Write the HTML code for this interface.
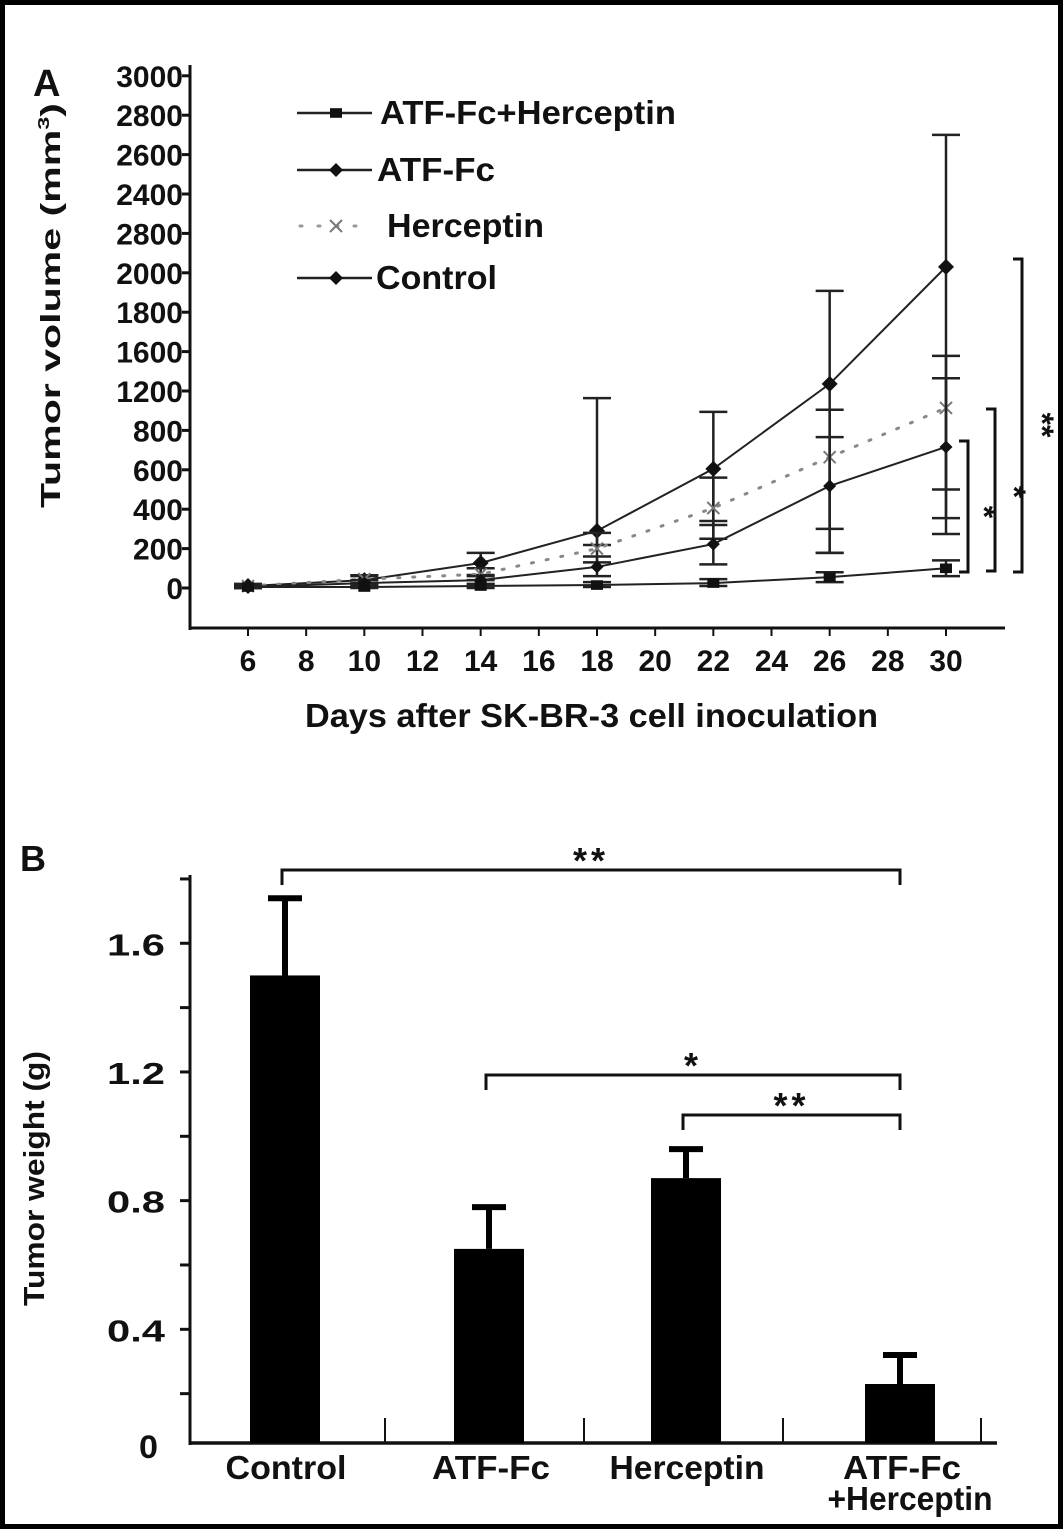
<!DOCTYPE html>
<html><head><meta charset="utf-8"><style>
html,body{margin:0;padding:0;background:#fff}
svg{display:block}
text{font-family:"Liberation Sans",sans-serif;font-weight:bold;fill:#111}
</style></head><body>
<svg id="fig" width="1063" height="1532" viewBox="0 0 1063 1532">
<rect x="2.5" y="2.5" width="1058" height="1524" fill="#fff" stroke="#000" stroke-width="5"/>
<g id="pa"></g>
<g id="pb"></g>
</svg>
<script>
// ---------- Panel A data ----------
const days = [6, 10, 14, 18, 22, 26, 30];
const yTickLabels = ["0","200","400","600","800","1200","1600","1800","2000","2800","2400","2600","2800","3000"];
const yTickValues = [0,200,400,600,800,1200,1600,1800,2000,2200,2400,2600,2800,3000];
const xTickLabels = [6,8,10,12,14,16,18,20,22,24,26,28,30];
const controlMean = [10, 40, 127, 290, 605, 1272, 2030];
const controlLow  = [0, 20, 66, 218, 320, 178, 274];
const controlHigh = [20, 60, 178, 1128, 988, 1908, 2700];
const hercMean = [10, 45, 70, 200, 406, 664, 1028];
const hercLow  = [0, 25, 40, 130, 250, 300, 500];
const hercHigh = [20, 65, 100, 280, 560, 1010, 1556];
const atfMean = [5, 25, 40, 107, 223, 518, 716];
const atfLow  = [0, 10, 20, 60, 120, 178, 355];
const atfHigh = [10, 40, 60, 160, 340, 766, 1330];
const comboMean = [5, 5, 10, 15, 25, 55, 100];
const comboLow  = [0, 0, 0, 5, 10, 30, 60];
const comboHigh = [10, 10, 20, 30, 45, 80, 140];
// ---------- Panel B data ----------
const groups = ["Control", "ATF-Fc", "Herceptin", "ATF-Fc|+Herceptin"];
const weights = [1.50, 0.65, 0.87, 0.23];
const weightErr = [0.24, 0.13, 0.09, 0.09];
const bTickValues = [0.4, 0.8, 1.2, 1.6];

const NS = "http://www.w3.org/2000/svg";
function mk(parent, tag, attrs, txt){
  const e = document.createElementNS(NS, tag);
  for (const k in attrs) e.setAttribute(k, attrs[k]);
  if (txt !== undefined) e.textContent = txt;
  parent.appendChild(e); return e;
}
const pa = document.getElementById('pa');
const pb = document.getElementById('pb');

const Y0 = 588, STEP = 39.4;
function ya(v){
  for (let i = 0; i < yTickValues.length - 1; i++){
    if (v <= yTickValues[i+1]) {
      const f = (v - yTickValues[i]) / (yTickValues[i+1] - yTickValues[i]);
      return Y0 - (i + f) * STEP;
    }
  }
  return Y0 - (yTickValues.length - 1) * STEP;
}
function xa(d){ return 248 + (d - 6) * (698 / 24); }

let e = mk(pa, 'text', {x: 33, y: 96, 'font-size': 38}, 'A');


e = mk(pa, 'line', {x1: 190, y1: 65, x2: 190, y2: 630, stroke: '#111', 'stroke-width': 3});


e = mk(pa, 'line', {x1: 189, y1: 628, x2: 1005, y2: 628, stroke: '#111', 'stroke-width': 3});


yTickLabels.forEach((lab, i) => {
  const y = Y0 - i * STEP;
  const t = mk(pa, 'line', {x1: 182, y1: y, x2: 190, y2: y, stroke: '#111', 'stroke-width': 3});
  
  
  const l = mk(pa, 'text', {x: 183, y: y + 11, 'font-size': 30, 'text-anchor': 'end'}, lab);
  
  
});
xTickLabels.forEach(d => {
  const x = xa(d);
  const t = mk(pa, 'line', {x1: x, y1: 628, x2: x, y2: 636, stroke: '#111', 'stroke-width': 2});
  
  
  const l = mk(pa, 'text', {x: x, y: 671, 'font-size': 30, 'text-anchor': 'middle'}, String(d));
  
  
});
e = mk(pa, 'text', {x: 305, y: 727, 'font-size': 33, textLength: 573, lengthAdjust: 'spacingAndGlyphs'}, 'Days after SK-BR-3 cell inoculation');


e = mk(pa, 'text', {x: 0, y: 0, 'font-size': 28, textLength: 405, lengthAdjust: 'spacingAndGlyphs', transform: 'translate(60,508) rotate(-90)'});


e.appendChild(document.createTextNode('Tumor volume (mm'));
mk(e, 'tspan', {'font-size': 16, dy: -11}, '3');
mk(e, 'tspan', {dy: 11}, ')');

const series = [
  {name: 'control', mean: controlMean, lo: controlLow, hi: controlHigh, dash: null, mk: 'diamond', r: 8},
  {name: 'herceptin', mean: hercMean, lo: hercLow, hi: hercHigh, dash: '2 13', mk: 'x', r: 6},
  {name: 'atf-fc', mean: atfMean, lo: atfLow, hi: atfHigh, dash: null, mk: 'diamond', r: 6.5},
  {name: 'atf-fc-herceptin', mean: comboMean, lo: comboLow, hi: comboHigh, dash: null, mk: 'square', r: 6}
];
function marker(g, type, x, y, r){
  let m;
  if (type === 'diamond') m = mk(g, 'polygon', {points: `${x},${y-r} ${x+r},${y} ${x},${y+r} ${x-r},${y}`, fill: '#111'});
  else if (type === 'square') m = mk(g, 'rect', {x: x-r, y: y-r*0.8, width: 2*r, height: 1.6*r, fill: '#111'});
  else m = mk(g, 'path', {d: `M${x-r},${y-r}L${x+r},${y+r}M${x+r},${y-r}L${x-r},${y+r}`, stroke: '#777', 'stroke-width': 2, fill: 'none'});
  return m;
}
series.forEach(s => {
  const g = mk(pa, 'g', {});
  
  
  days.forEach((d, i) => {
    const x = xa(d);
    const b = mk(g, 'path', {d: `M${x},${ya(s.lo[i])}V${ya(s.hi[i])}M${x-14},${ya(s.lo[i])}h28M${x-14},${ya(s.hi[i])}h28`, stroke: '#222', 'stroke-width': 2.5, fill: 'none'});
    
    
  });
  const pts = days.map((d, i) => xa(d) + ',' + ya(s.mean[i])).join(' ');
  const attrs = {points: pts, fill: 'none', stroke: s.dash ? '#888' : '#222', 'stroke-width': s.dash ? 3 : 2};
  if (s.dash) { attrs['stroke-dasharray'] = s.dash; attrs['stroke-linecap'] = 'round'; }
  const ln = mk(g, 'polyline', attrs);
  
  
  days.forEach((d, i) => {
    const m = marker(g, s.mk, xa(d), ya(s.mean[i]), s.r);
    
    
  });
});

const legend = [
  {label: 'ATF-Fc+Herceptin', y: 113, mk: 'square', dash: false, tx: 380, w: 296},
  {label: 'ATF-Fc', y: 170, mk: 'diamond', dash: false, tx: 377, w: 118},
  {label: 'Herceptin', y: 226, mk: 'x', dash: true, tx: 387, w: 157},
  {label: 'Control', y: 278, mk: 'diamond', dash: false, tx: 376, w: 121}
];
legend.forEach(L => {
  const g = mk(pa, 'g', {});
  
  
  if (L.dash) {
    mk(g, 'line', {x1: 300, y1: L.y, x2: 370, y2: L.y, stroke: '#999', 'stroke-width': 3, 'stroke-dasharray': '2 16', 'stroke-linecap': 'round'});
  } else {
    mk(g, 'line', {x1: 297, y1: L.y, x2: 372, y2: L.y, stroke: '#222', 'stroke-width': 2.5});
  }
  marker(g, L.mk, 336, L.y, L.mk === 'diamond' ? 7 : 6);
  mk(g, 'text', {x: L.tx, y: L.y + 11, 'font-size': 33, textLength: L.w, lengthAdjust: 'spacingAndGlyphs'}, L.label);
});

const brA = [{x: 968, y1: 441, y2: 572, s: '*', sx: 984, sy: 512},
             {x: 995, y1: 409, y2: 571, s: '*', sx: 1014, sy: 492},
             {x: 1022, y1: 259, y2: 572, s: '**', sx: 1042, sy: 425}];
brA.forEach(b => {
  const p = mk(pa, 'path', {d: `M${b.x-9},${b.y1}H${b.x}V${b.y2}H${b.x-9}`, stroke: '#111', 'stroke-width': 3, fill: 'none'});
  
  
  const t = mk(pa, 'text', {x: 0, y: 0, 'font-size': 32, 'font-weight': 'normal', 'text-anchor': 'middle', 'dominant-baseline': 'central', transform: `translate(${b.sx},${b.sy}) rotate(90)`}, b.s);
  
  
});

// ---------- Panel B ----------
const BY0 = 1458, BS = 321.7, AXY = 1443;
function yb(v){ return BY0 - v * BS; }
const centers = [285, 489, 686, 900];
e = mk(pb, 'text', {x: 20, y: 871, 'font-size': 36}, 'B');


e = mk(pb, 'line', {x1: 190, y1: 875, x2: 190, y2: 1445, stroke: '#111', 'stroke-width': 3});


e = mk(pb, 'line', {x1: 189, y1: AXY, x2: 997, y2: AXY, stroke: '#111', 'stroke-width': 3.5});


bTickValues.forEach(v => {
  const y = yb(v);
  const t = mk(pb, 'line', {x1: 180, y1: y, x2: 190, y2: y, stroke: '#111', 'stroke-width': 3});
  
  
  const t2 = mk(pb, 'line', {x1: 180, y1: yb(v - 0.2), x2: 190, y2: yb(v - 0.2), stroke: '#111', 'stroke-width': 3});
  
  
  const l = mk(pb, 'text', {x: 107, y: y + 12, 'font-size': 31, textLength: 58, lengthAdjust: 'spacingAndGlyphs'}, v.toFixed(1));
  
  
});
e = mk(pb, 'text', {x: 139, y: 1458, 'font-size': 32, textLength: 19, lengthAdjust: 'spacingAndGlyphs'}, '0');


[1.8].forEach(v => { const t = mk(pb, 'line', {x1: 180, y1: yb(v), x2: 190, y2: yb(v), stroke: '#111', 'stroke-width': 3});   });
[385, 584, 783, 981].forEach(x => { const t = mk(pb, 'line', {x1: x, y1: AXY, x2: x, y2: AXY - 25, stroke: '#111', 'stroke-width': 2});   });
e = mk(pb, 'text', {x: 0, y: 0, 'font-size': 29, textLength: 255, lengthAdjust: 'spacingAndGlyphs', transform: 'translate(44,1306) rotate(-90)'}, 'Tumor weight (g)');


const labW = [[121], [118], [155], [118, 165]];
const labCx = [[286], [491], [687], [902, 910]];
groups.forEach((gname, i) => {
  const c = centers[i];
  const bar = mk(pb, 'rect', {x: c - 35, y: yb(weights[i]), width: 70, height: AXY - yb(weights[i]), fill: '#000'});
  
  
  const et = yb(weights[i] + weightErr[i]);
  const eb = mk(pb, 'path', {d: `M${c},${yb(weights[i])}V${et}M${c-17},${et}h34`, stroke: '#000', 'stroke-width': 6, fill: 'none'});
  
  
  const parts = gname.split('|');
  parts.forEach((p, k) => {
    const w = labW[i][k];
    const cx = labCx[i][k];
    const l = mk(pb, 'text', {x: cx - w / 2, y: 1479 + k * 31, 'font-size': 33, textLength: w, lengthAdjust: 'spacingAndGlyphs'}, p);
    
    
  });
});
const brB = [{a: 0, b: 3, y: 870, s: '**'}, {a: 1, b: 3, y: 1075, s: '*'}, {a: 2, b: 3, y: 1115, s: '**'}];
brB.forEach(b => {
  const x1 = centers[b.a] - 3, x2 = centers[b.b];
  const p = mk(pb, 'path', {d: `M${x1},${b.y + 15}V${b.y}H${x2}V${b.y + 15}`, stroke: '#111', 'stroke-width': 3, fill: 'none'});
  
  
  const t = mk(pb, 'text', {x: (x1 + x2) / 2, y: b.y + 3, 'font-size': 36, 'font-weight': 'normal', 'letter-spacing': 4, 'text-anchor': 'middle'}, b.s);
  
  
});
</script>
</body></html>
